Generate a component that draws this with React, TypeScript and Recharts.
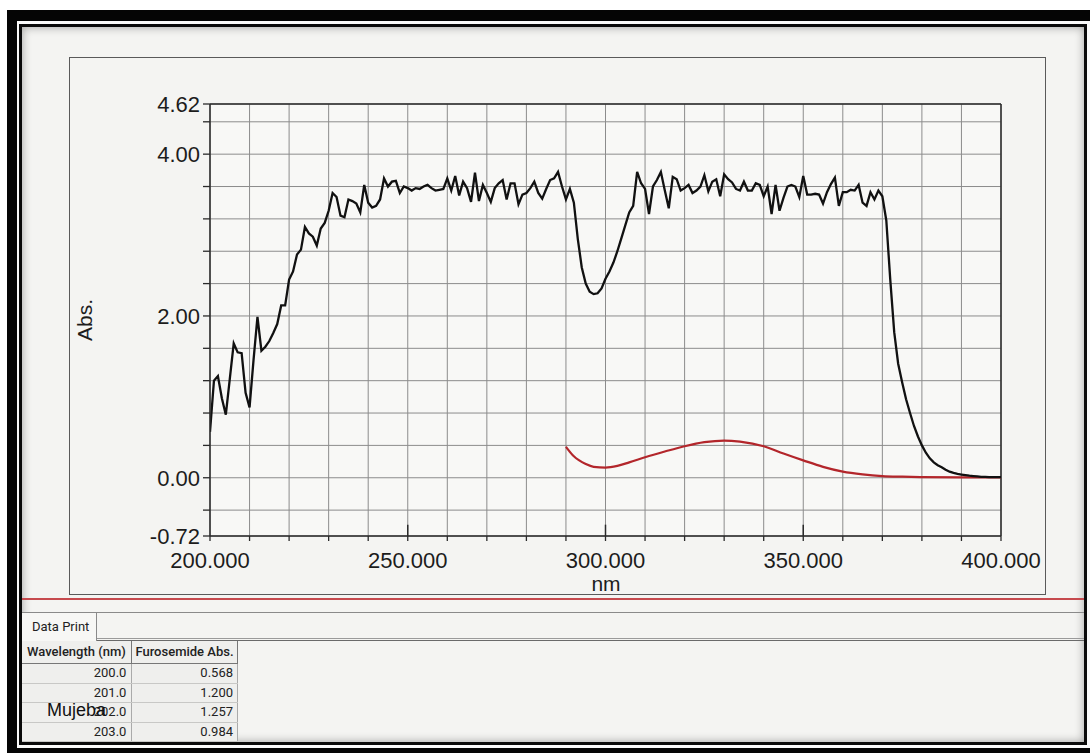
import React from 'react';
import { LineChart, Line, XAxis, YAxis, CartesianGrid, ReferenceLine } from 'recharts';

/* ───────── Data ───────── */

const BLACK_NM_START = 200;
const BLACK_ABS = [
  0.568, 1.2, 1.257, 0.984, 0.78, 1.22, 1.66, 1.55, 1.54, 1.05,
  0.87, 1.45, 1.99, 1.57, 1.62, 1.69, 1.79, 1.9, 2.13, 2.13,
  2.45, 2.55, 2.76, 2.82, 3.1, 3.02, 2.98, 2.87, 3.08, 3.15,
  3.3, 3.52, 3.47, 3.24, 3.22, 3.44, 3.42, 3.39, 3.28, 3.62,
  3.4, 3.34, 3.36, 3.44, 3.7, 3.6, 3.66, 3.67, 3.52, 3.6,
  3.58, 3.55, 3.58, 3.57, 3.6, 3.62, 3.58, 3.55, 3.56, 3.57,
  3.7, 3.55, 3.73, 3.49, 3.66, 3.58, 3.41, 3.77, 3.42, 3.62,
  3.52, 3.41, 3.58, 3.64, 3.68, 3.44, 3.64, 3.64, 3.38, 3.5,
  3.52, 3.58, 3.66, 3.52, 3.45, 3.57, 3.68, 3.7, 3.78, 3.6,
  3.44, 3.57, 3.4, 2.95, 2.6, 2.4, 2.3, 2.27, 2.28, 2.34,
  2.46, 2.55, 2.66, 2.8, 2.96, 3.12, 3.28, 3.36, 3.78, 3.64,
  3.57, 3.26, 3.6, 3.68, 3.78, 3.55, 3.33, 3.72, 3.69, 3.55,
  3.58, 3.62, 3.52, 3.55, 3.6, 3.74, 3.54, 3.66, 3.69, 3.48,
  3.75, 3.69, 3.65, 3.57, 3.55, 3.66, 3.55, 3.55, 3.64, 3.62,
  3.48, 3.6, 3.26, 3.62, 3.3, 3.46, 3.6, 3.62, 3.6, 3.47,
  3.73, 3.5, 3.5, 3.51, 3.5, 3.39, 3.53, 3.63, 3.71, 3.36,
  3.53, 3.53, 3.56, 3.55, 3.62, 3.4, 3.36, 3.53, 3.44, 3.55,
  3.48, 3.18, 2.45, 1.8, 1.41, 1.18, 0.97, 0.8, 0.64, 0.51,
  0.4, 0.31, 0.24, 0.19, 0.155, 0.13, 0.1, 0.075, 0.06, 0.048,
  0.04, 0.032, 0.025, 0.02, 0.016, 0.012, 0.01, 0.009, 0.008, 0.008,
  0.007,
];

const RED_NM = [290, 292, 295, 297, 300, 303, 306, 310, 315, 320, 325, 330, 334, 340, 345, 350, 355, 360, 365, 370, 375, 380, 390, 400];
const RED_ABS = [0.383, 0.265, 0.17, 0.135, 0.126, 0.147, 0.19, 0.253, 0.324, 0.39, 0.44, 0.46, 0.447, 0.39, 0.3, 0.215, 0.135, 0.076, 0.042, 0.021, 0.013, 0.008, 0.005, 0.004];

const X_TICKS = [200, 210, 220, 230, 240, 250, 260, 270, 280, 290, 300, 310, 320, 330, 340, 350, 360, 370, 380, 390, 400];
const X_LABELED = [200, 250, 300, 350, 400];
const X_MAJOR = [250, 300, 350];
const Y_TICKS = [-0.72, -0.4, 0, 0.4, 0.8, 1.2, 1.6, 2, 2.4, 2.8, 3.2, 3.6, 4, 4.4, 4.62];
const Y_LABELED = [-0.72, 0, 2, 4, 4.62];

const TABLE_ROWS = [
  ['200.0', '0.568'],
  ['201.0', '1.200'],
  ['202.0', '1.257'],
  ['203.0', '0.984'],
];

/* ───────── Theme ───────── */

const AXIS = '#2a2a2a';
const GRID = '#8c8c8c';
const TICK_FONT = { fontSize: 22, fill: '#1c1c1c', fontFamily: '"Liberation Sans", Arial, sans-serif' };
const UI_FONT = 'Roboto, "Noto Sans", sans-serif';

const blackData = BLACK_ABS.map((v, i) => ({ nm: BLACK_NM_START + i, abs: v }));
const redData = RED_NM.map((nm, i) => ({ nm, abs: RED_ABS[i] }));

function abs(style: React.CSSProperties): React.CSSProperties {
  return { position: 'absolute', boxSizing: 'border-box', ...style };
}

function DataTable() {
  const colW = [110, 106];
  return (
    <div style={abs({ left: 22, top: 641, width: 216, height: 101, overflow: 'hidden', background: '#efefed', fontFamily: UI_FONT, fontSize: 13, color: '#222' })}>
      <div style={{ display: 'flex', height: 22, borderBottom: '1px solid #777' }}>
        <div style={{ width: colW[0], borderRight: '1px solid #777', textAlign: 'center', lineHeight: '21px', fontWeight: 500 }}>Wavelength (nm)</div>
        <div style={{ width: colW[1], borderRight: '1px solid #777', textAlign: 'center', lineHeight: '21px', fontWeight: 500 }}>Furosemide Abs.</div>
      </div>
      {TABLE_ROWS.map((r, i) => (
        <div key={i} style={{ display: 'flex', height: 18.6, borderBottom: '1px solid #c8c8c6' }}>
          <div style={{ width: colW[0], borderRight: '1px solid #aaa', textAlign: 'right', paddingRight: 5, lineHeight: '18px' }}>{r[0]}</div>
          <div style={{ width: colW[1], borderRight: '1px solid #aaa', textAlign: 'right', paddingRight: 4, lineHeight: '18px' }}>{r[1]}</div>
        </div>
      ))}
    </div>
  );
}

export default function App() {
  return (
    <div style={abs({ position: 'fixed', left: 0, top: 0, width: 1090, height: 753, background: '#fff', overflow: 'hidden' })}>
      {/* photo frame */}
      <div style={abs({ left: 7, top: 10, width: 1083, height: 743, background: '#050505' })} />
      <div style={abs({ left: 17, top: 21, width: 1073, height: 727, background: '#fafafa' })} />
      <div style={abs({ left: 19, top: 24, width: 1068, height: 721, border: '3px solid #0a0a0a', background: '#f4f4f2', boxShadow: 'inset 0 0 10px rgba(0,0,0,0.35)' })} />

      {/* chart panel */}
      <div style={abs({ left: 69, top: 57, width: 977, height: 538, border: '1.5px solid #5a5a5a' })} />
      <div style={abs({ left: 85, top: 320, transform: 'translate(-50%, -50%) rotate(-90deg)', fontFamily: TICK_FONT.fontFamily, fontSize: 21, color: '#1c1c1c' })}>Abs.</div>
      <div style={abs({ left: 606, top: 584, transform: 'translate(-50%, -50%)', fontFamily: TICK_FONT.fontFamily, fontSize: 21, color: '#1c1c1c' })}>nm</div>

      <div style={abs({ left: 0, top: 0 })}>
        <LineChart width={1090} height={753} margin={{ top: 104, right: 89, bottom: 157, left: 70 }}>
          <CartesianGrid stroke={GRID} strokeWidth={1} fill="#f8f8f6" horizontalValues={Y_TICKS} verticalValues={X_TICKS} />
          <XAxis
            type="number"
            dataKey="nm"
            domain={[200, 400]}
            ticks={X_TICKS}
            interval={0}
            allowDataOverflow
            height={60}
            tick={TICK_FONT}
            tickSize={5}
            tickMargin={11}
            tickLine={{ stroke: AXIS, strokeWidth: 1.3 }}
            axisLine={{ stroke: AXIS, strokeWidth: 1.5 }}
            tickFormatter={(v: number) => (X_LABELED.includes(v) ? v.toFixed(3) : '')}
          />
          <YAxis
            type="number"
            domain={[-0.72, 4.62]}
            ticks={Y_TICKS}
            interval={0}
            allowDataOverflow
            width={140}
            tick={TICK_FONT}
            tickSize={7}
            tickMargin={3}
            tickLine={{ stroke: AXIS, strokeWidth: 1.3 }}
            axisLine={{ stroke: AXIS, strokeWidth: 1.5 }}
            tickFormatter={(v: number) => (Y_LABELED.includes(v) ? v.toFixed(2) : '')}
          />
          <ReferenceLine y={4.62} stroke={AXIS} strokeWidth={1.5} />
          <ReferenceLine x={400} stroke={AXIS} strokeWidth={1.5} />
          {X_MAJOR.map(x => (
            <ReferenceLine key={x} segment={[{ x, y: -0.72 }, { x, y: -0.58 }]} stroke={AXIS} strokeWidth={1.5} />
          ))}
          <Line data={redData} dataKey="abs" type="monotone" stroke="#b3262b" strokeWidth={2.2} dot={false} isAnimationActive={false} />
          <Line data={blackData} dataKey="abs" type="linear" stroke="#111" strokeWidth={2.3} dot={false} isAnimationActive={false} />
        </LineChart>
      </div>

      {/* data print strip */}
      <div style={abs({ left: 22, top: 598, width: 1062, height: 2, background: '#c64a4e' })} />
      <div style={abs({ left: 22, top: 612, width: 1062, height: 1, background: '#8a8a8a' })} />
      <div style={abs({ left: 22, top: 638, width: 1062, height: 1, background: '#9a9a9a' })} />
      <div style={abs({ left: 22, top: 640, width: 1062, height: 1, background: '#6a6a6a' })} />
      <div style={abs({ left: 22, top: 613, width: 75, height: 28, borderRight: '1px solid #8a8a8a', background: '#f7f7f5', fontFamily: UI_FONT, fontSize: 13, color: '#222', paddingLeft: 10, lineHeight: '28px' })}>Data Print</div>
      <DataTable />
      <div style={abs({ left: 47, top: 699, fontFamily: '"Liberation Sans", Arial, sans-serif', fontSize: 18, color: '#111', lineHeight: '22px' })}>Mujeba</div>
    </div>
  );
}
